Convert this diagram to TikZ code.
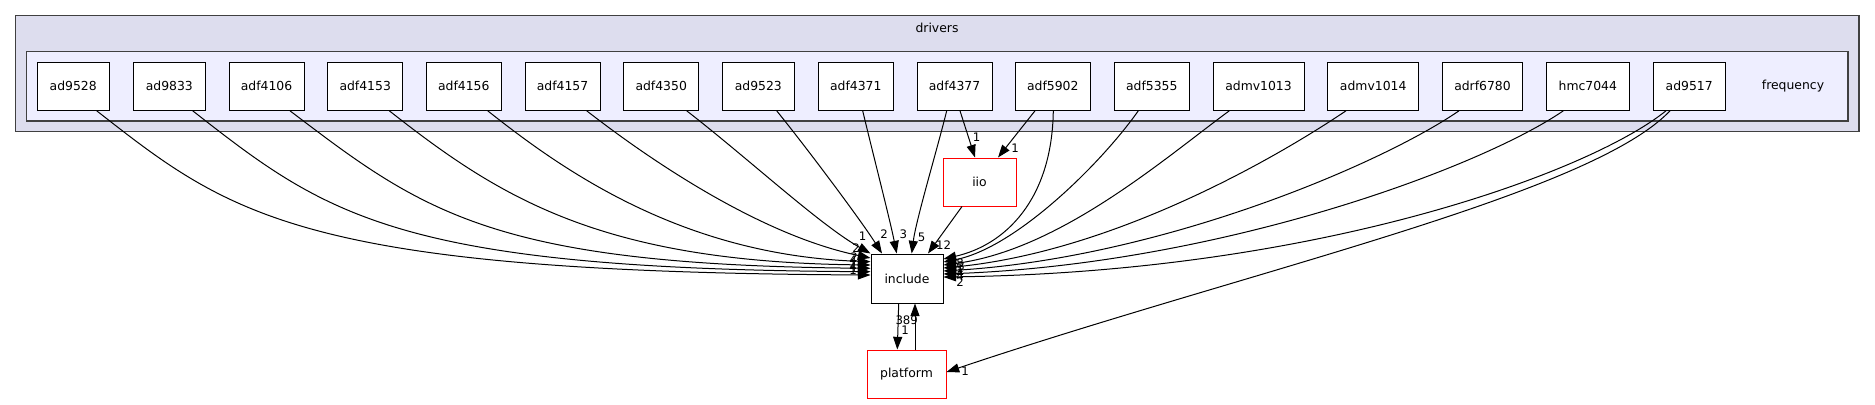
\documentclass[tikz,border=0pt]{standalone}
\usepackage{fontspec}
\setmainfont{DejaVu Sans}
\usetikzlibrary{arrows.meta,calc}
\definecolor{clsOuter}{HTML}{DDDDEE}
\definecolor{clsInner}{HTML}{EEEEFF}
\definecolor{clsBorder}{HTML}{404040}
\definecolor{dirRed}{HTML}{FF0000}
\begin{document}
\begin{tikzpicture}[x=0.75pt,y=-0.75pt,
  dirnode/.style={draw=black, fill=white, line width=0.75pt, minimum height=36pt, inner sep=0pt, font=\fontsize{9.3pt}{11pt}\selectfont},
  rednode/.style={dirnode, draw=dirRed},
  cluster/.style={draw=clsBorder, line width=1pt},
  ctext/.style={font=\fontsize{9.3pt}{11pt}\selectfont, inner sep=0pt},
  edgearrow/.style={line width=0.75pt, -{Triangle[length=9.5pt,width=6.8pt]}},
  lbl/.style={font=\fontsize{8.8pt}{10pt}\selectfont, inner sep=0pt}]
\path[use as bounding box] (0,0) rectangle (1875,404);
% clusters
\draw[cluster, fill=clsOuter] (15.7,15.7) rectangle (1859,131.7);
\node[ctext] (driverslbl) at (937,27.5) {drivers};
\draw[cluster, fill=clsInner] (26.3,51.7) rectangle (1848,121);
\node[ctext] (freqlbl) at (1793,86) {frequency};
% nodes in frequency
\node[dirnode, minimum width=54pt] (ad9528) at (73.2,86.3) {ad9528};
\node[dirnode, minimum width=54pt] (ad9833) at (169.3,86.3) {ad9833};
\node[dirnode, minimum width=56.25pt] (adf4106) at (266.5,86.3) {adf4106};
\node[dirnode, minimum width=56.25pt] (adf4153) at (365.2,86.3) {adf4153};
\node[dirnode, minimum width=56.25pt] (adf4156) at (463.8,86.3) {adf4156};
\node[dirnode, minimum width=56.25pt] (adf4157) at (562.5,86.3) {adf4157};
\node[dirnode, minimum width=56.25pt] (adf4350) at (661.2,86.3) {adf4350};
\node[dirnode, minimum width=54pt] (ad9523) at (758.3,86.3) {ad9523};
\node[dirnode, minimum width=56.25pt] (adf4371) at (855.8,86.3) {adf4371};
\node[dirnode, minimum width=56.25pt] (adf4377) at (954.5,86.3) {adf4377};
\node[dirnode, minimum width=56.25pt] (adf5902) at (1052.8,86.3) {adf5902};
\node[dirnode, minimum width=56.25pt] (adf5355) at (1151.8,86.3) {adf5355};
\node[dirnode, minimum width=68.25pt] (admv1013) at (1258.5,86.3) {admv1013};
\node[dirnode, minimum width=68.25pt] (admv1014) at (1373.2,86.3) {admv1014};
\node[dirnode, minimum width=60pt] (adrf6780) at (1482.5,86.3) {adrf6780};
\node[dirnode, minimum width=62.25pt] (hmc7044) at (1587.8,86.3) {hmc7044};
\node[dirnode, minimum width=54pt] (ad9517) at (1689.2,86.3) {ad9517};
% outside nodes
\node[rednode, minimum width=54.75pt] (iio) at (979.5,182) {iio};
\node[dirnode, minimum width=54pt, minimum height=36.75pt] (include) at (907,278.5) {include};
\node[rednode, minimum width=59.25pt] (platform) at (906.5,374) {platform};
% edges from the left
\draw[edgearrow] ($(ad9528.south)+(23.5,0)$) .. controls (230,215) and (300,272) .. ($(include.west)+(0,-3.5)$);
\draw[edgearrow] ($(ad9833.south)+(23.4,0)$) .. controls (326,215) and (396,269) .. ($(include.west)+(0,-6.8)$);
\draw[edgearrow] ($(adf4106.south)+(23.5,0)$) .. controls (423,212) and (493,265) .. ($(include.west)+(0,-10.2)$);
\draw[edgearrow] ($(adf4153.south)+(24.1,0)$) .. controls (499,197) and (600,262) .. ($(include.west)+(0,-13.5)$);
\draw[edgearrow] ($(adf4156.south)+(23.9,0)$) .. controls (560,168) and (680,255) .. ($(include.west)+(0,-16.8)$);
\draw[edgearrow] ($(adf4157.south)+(24.2,0)$) .. controls (650,160) and (760,235) .. ($(include.west)+(0,-20.5)$);
\draw[edgearrow] ($(adf4350.south)+(25.5,0)$) .. controls (750,160) and (820,225) .. (include.north west);
\draw[edgearrow] ($(ad9523.south)+(18.4,0)$) .. controls (810,152) and (862,222) .. ($(include.north)+(-25,0)$);
\draw[edgearrow] ($(adf4371.south)+(6.9,0)$) .. controls (872,150) and (890,220) .. ($(include.north)+(-10.3,0)$);
\draw[edgearrow] ($(adf4377.south)+(-7.8,0)$) .. controls (937,150) and (916,220) .. ($(include.north)+(4.7,0)$);
\draw[edgearrow] ($(iio.south)+(-17.5,0)$) -- ($(include.north)+(21,0)$);
% edges to iio
\draw[edgearrow] ($(adf4377.south)+(5.5,0)$) -- ($(iio.north)+(-4.5,0)$);
\draw[edgearrow] ($(adf5902.south)+(-17.8,0)$) -- ($(iio.north)+(18.5,0)$);
% edges from the right
\draw[edgearrow] ($(adf5902.south)+(0.5,0)$) .. controls (1052,200) and (1005,245) .. ($(include.east)+(0,-19.5)$);
\draw[edgearrow] ($(adf5355.south)+(-13.5,0)$) .. controls (1100,165) and (1015,248) .. ($(include.east)+(0,-16.5)$);
\draw[edgearrow] ($(admv1013.south)+(-29.2,0)$) .. controls (1165,158) and (1060,250) .. ($(include.east)+(0,-13.5)$);
\draw[edgearrow] ($(admv1014.south)+(-27.2,0)$) .. controls (1270,162) and (1110,252) .. ($(include.east)+(0,-10.5)$);
\draw[edgearrow] ($(adrf6780.south)+(-23.5,0)$) .. controls (1380,165) and (1160,258) .. ($(include.east)+(0,-7.5)$);
\draw[edgearrow] ($(hmc7044.south)+(-24.5,0)$) .. controls (1480,168) and (1220,264) .. ($(include.east)+(0,-4.5)$);
\draw[edgearrow] ($(ad9517.south)+(-23.2,0)$) .. controls (1590,172) and (1320,272) .. ($(include.east)+(0,-1.5)$);
\draw[edgearrow] ($(ad9517.south)+(-19.2,0)$) .. controls (1590,195) and (1250,270) .. ($(platform.east)+(0,-2)$);
% include <-> platform
\draw[edgearrow] ($(include.south)+(-8.3,0)$) -- ($(platform.north)+(-9.2,0)$);
\draw[edgearrow] ($(platform.north)+(8.5,0)$) -- ($(include.south)+(8,0)$);
% labels
\node[lbl] (t1) at (862.7,236.7) {1};
\node[lbl] (t2) at (884,234) {2};
\node[lbl] (t3) at (903.3,234) {3};
\node[lbl] (t5) at (921.7,237.3) {5};
\node[lbl] (t12) at (943.5,245) {12};
\node[lbl] (l1) at (856,248) {2};
\node[lbl] (l2) at (854,257) {2};
\node[lbl] (l3) at (853,260.5) {4};
\node[lbl] (l4) at (853,264) {1};
\node[lbl] (l5) at (853,267) {4};
\node[lbl] (l6) at (853,270) {1};
\node[lbl] (r1) at (960,263) {8};
\node[lbl] (r2) at (961,266) {3};
\node[lbl] (r3) at (960,268.5) {1};
\node[lbl] (r4) at (960,271) {1};
\node[lbl] (r5) at (960,273.5) {4};
\node[lbl] (r6) at (960,276) {4};
\node[lbl] (r7) at (960,282) {2};
\node[lbl] (i1) at (976.7,137) {1};
\node[lbl] (i2) at (1015,148) {1};
\node[lbl] (p389) at (906.7,320.7) {389};
\node[lbl] (p1) at (905,330.7) {1};
\node[lbl] (p2) at (965,371.7) {1};
\end{tikzpicture}
\end{document}
